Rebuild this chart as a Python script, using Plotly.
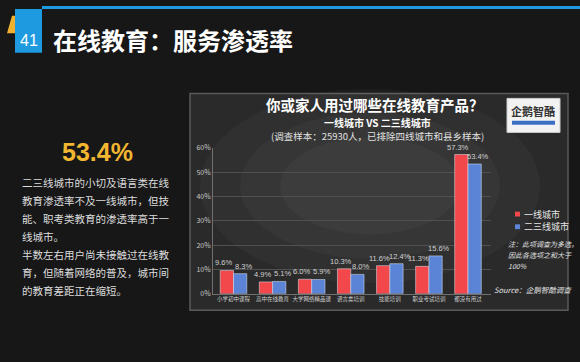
import plotly.graph_objects as go

categories = ["小学初中课程", "高中在线教育", "大学网络精品课", "语言类培训", "技能培训", "职业考试培训", "都没有用过"]
tier1 = [9.6, 4.9, 6.0, 10.3, 11.6, 11.3, 57.3]
tier23 = [8.3, 5.1, 5.9, 8.0, 12.4, 15.6, 53.4]
series_names = ["一线城市", "二三线城市"]
y_ticks = [0, 10, 20, 30, 40, 50, 60]

W, H = 580, 362
CJK = "Noto Sans CJK SC"
RED = "#F2474B"
BLUE = "#5B84D6"
LABEL_FONT = "Liberation Sans Narrow, Liberation Sans"

def px(x):
    return x / W

def py(y):
    return 1 - y / H

fig = go.Figure()
for name, vals, col in [(series_names[0], tier1, RED), (series_names[1], tier23, BLUE)]:
    fig.add_trace(go.Bar(
        x=categories, y=vals, name=name, marker_color=col,
        showlegend=False, hoverinfo="skip",
    ))

shapes = []
# top blue line
shapes.append(dict(type="rect", xref="paper", yref="paper", x0=px(42), x1=1, y0=py(3), y1=py(0),
                   fillcolor="#1E9AE0", line_width=0, layer="below"))
# yellow slanted mark
shapes.append(dict(type="path", xref="paper", yref="paper",
                   path=f"M {px(7)},{py(28)} L {px(12)},{py(10)} L {px(16)},{py(10)} L {px(16)},{py(28)} Z",
                   fillcolor="#F0B030", line_width=0, layer="below"))
# blue number box
shapes.append(dict(type="rect", xref="paper", yref="paper", x0=px(15), x1=px(42), y0=py(48), y1=py(3),
                   fillcolor="#1E9AE0", line_width=0, layer="below"))
# chart panel
shapes.append(dict(type="rect", xref="paper", yref="paper", x0=px(190), x1=px(568), y0=py(313), y1=py(90),
                   fillcolor="#2a2a2a", line=dict(color="#5a5a5a", width=1.5), layer="below"))
# soft highlight in panel
for rx, ry, op in [(170, 100, 0.03), (130, 75, 0.03), (90, 50, 0.03)]:
    cx, cy = 370, 185
    shapes.append(dict(type="circle", xref="paper", yref="paper",
                       x0=px(cx - rx), x1=px(cx + rx), y0=py(cy + ry), y1=py(cy - ry),
                       fillcolor="#ffffff", opacity=op, line_width=0, layer="below"))
# logo box
shapes.append(dict(type="rect", xref="paper", yref="paper", x0=px(507), x1=px(560), y0=py(130), y1=py(95),
                   fillcolor="#f2f2f2", line=dict(color="#cccccc", width=1), layer="below"))
shapes.append(dict(type="rect", xref="paper", yref="paper", x0=px(512), x1=px(555), y0=py(122), y1=py(118),
                   fillcolor="#3b6fc4", line_width=0, layer="below"))
# manual legend markers
for i, col in enumerate([RED, BLUE]):
    yc = 214 + i * 13
    shapes.append(dict(type="rect", xref="paper", yref="paper", x0=px(515), x1=px(520),
                       y0=py(yc + 2.5), y1=py(yc - 2.5), fillcolor=col, line_width=0))

def ann(text, x, y, size, color, xanchor="center", family=CJK):
    return dict(text=text, x=px(x), y=py(y), xref="paper", yref="paper", showarrow=False,
                xanchor=xanchor, yanchor="middle", font=dict(size=size, color=color, family=family))

annotations = [
    ann("41", 29, 35, 16, "white", family="Liberation Sans"),
    ann("<b>在线教育：服务渗透率</b>", 51, 34, 24, "white", xanchor="left"),
    ann("<b>53.4%</b>", 97, 150, 25, "#F2B631", family="Liberation Sans"),
    ann("<b>你或家人用过哪些在线教育产品？</b>", 375, 101, 14.5, "white"),
    ann("<b>一线城市 VS 二三线城市</b>", 377, 120, 10, "white"),
    ann("(调查样本：25930人，已排除四线城市和县乡样本)", 377, 134, 9.5, "#e0e0e0"),
    ann("<b>企鹅智酷</b>", 533, 108, 11, "#333333"),
    ann(series_names[0], 522, 214, 9, "#e6e6e6", xanchor="left"),
    ann(series_names[1], 522, 227, 9, "#e6e6e6", xanchor="left"),
    ann("<i>注：此项调查为多选，</i>", 506, 245, 7, "#e0e0e0", xanchor="left"),
    ann("<i>因此各选项之和大于</i>", 506, 256, 7, "#e0e0e0", xanchor="left"),
    ann("<i>100%</i>", 506, 267, 7, "#e0e0e0", xanchor="left"),
    ann("<i>Source：企鹅智酷调查</i>", 492, 292, 7.5, "#e0e0e0", xanchor="left"),
]

# value labels above bars (positioned through the data axes)
for vals, shift in [(tier1, -10), (tier23, 10)]:
    for c, v in zip(categories, vals):
        annotations.append(dict(text=f"{v:.1f}%", x=c, y=v, xref="x", yref="y", showarrow=False,
                                xanchor="center", yanchor="bottom", xshift=shift, yshift=1,
                                font=dict(size=7.5, color="#d0d0d0", family=LABEL_FONT)))

para = [
    "二三线城市的小切及语言类在线",
    "教育渗透率不及一线城市，但技",
    "能、职考类教育的渗透率高于一",
    "线城市。",
    "半数左右用户尚未接触过在线教",
    "育，但随着网络的普及，城市间",
    "的教育差距正在缩短。",
]
for i, line in enumerate(para):
    annotations.append(ann(line, 20, 182 + i * 18.5, 10.5, "#dcdcdc", xanchor="left"))

fig.update_layout(
    width=W, height=H, margin=dict(l=0, r=0, t=0, b=0),
    paper_bgcolor="#171717", plot_bgcolor="rgba(0,0,0,0)",
    barmode="group", bargap=0.32, bargroupgap=0,
    shapes=shapes, annotations=annotations, showlegend=False,
    font=dict(family=CJK),
)
fig.update_xaxes(domain=[px(213), px(491)], showgrid=False, showline=True, linecolor="#707070",
                 tickfont=dict(size=5.5, color="#d0d0d0", family=CJK), ticks="", tickangle=0)
fig.update_yaxes(domain=[py(296), py(146)], range=[0, 60], tickvals=y_ticks,
                 ticktext=[f"{v}%" for v in y_ticks], showgrid=True, gridcolor="#505050",
                 showline=True, linecolor="#707070", zeroline=False,
                 tickfont=dict(size=7, color="#c8c8c8", family=CJK), ticks="")

fig.write_html("out.html", config={"displayModeBar": False})
with open("out.html", "r", encoding="utf-8") as f:
    html = f.read()
html = html.replace("<head>", "<head><style>html,body{margin:0;padding:0;overflow:hidden;background:#171717;}</style>", 1)
with open("out.html", "w", encoding="utf-8") as f:
    f.write(html)
